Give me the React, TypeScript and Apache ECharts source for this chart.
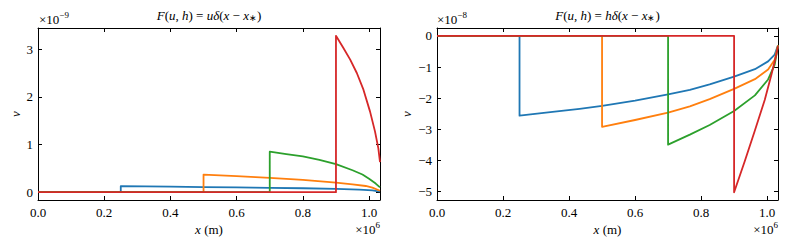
import React, { useEffect, useRef } from "react";
import * as echarts from "echarts";

// x in units of 1e6 m
const X_MAX = 1.033;
const xTicks = [0, 0.2, 0.4, 0.6, 0.8, 1.0];
const leftYTicks = [0, 1, 2, 3];
const rightYTicks = [0, -1, -2, -3, -4, -5];
const xStars = [0.25, 0.5, 0.7, 0.9];
const colors = ["#1f77b4", "#ff7f0e", "#2ca02c", "#d62728"];

// Left panel: F(u,h) = u δ(x - x*), v in units of 1e-9
const uBlueX = [0.25, 0.4, 0.5, 0.6, 0.7, 0.8, 0.9, 0.97, 1.01, 1.033];
const uBlueY = [0.125, 0.115, 0.108, 0.1, 0.092, 0.082, 0.068, 0.052, 0.036, 0.01];
const uOrangeX = [0.5, 0.6, 0.7, 0.8, 0.9, 0.95, 0.99, 1.01, 1.033];
const uOrangeY = [0.37, 0.335, 0.3, 0.26, 0.2, 0.165, 0.13, 0.095, 0.03];
const uGreenX = [0.7, 0.75, 0.8, 0.85, 0.9, 0.95, 0.98, 1.0, 1.02, 1.033];
const uGreenY = [0.85, 0.8, 0.75, 0.68, 0.59, 0.46, 0.37, 0.28, 0.18, 0.1];
const uRedX = [0.9, 0.922, 0.943, 0.963, 0.983, 1.003, 1.018, 1.028, 1.033];
const uRedY = [3.28, 3.03, 2.78, 2.5, 2.15, 1.69, 1.27, 0.92, 0.63];

// Right panel: F(u,h) = h δ(x - x*), v in units of 1e-8
const hBlueX = [0.25, 0.35, 0.432, 0.5, 0.6, 0.7, 0.766, 0.826, 0.9, 0.963, 1.003, 1.023, 1.033];
const hBlueY = [-2.56, -2.44, -2.34, -2.25, -2.08, -1.88, -1.73, -1.56, -1.31, -1.07, -0.82, -0.6, -0.3];
const hOrangeX = [0.5, 0.6, 0.7, 0.766, 0.826, 0.9, 0.963, 1.003, 1.023, 1.033];
const hOrangeY = [-2.92, -2.7, -2.46, -2.26, -2.03, -1.7, -1.39, -1.08, -0.77, -0.3];
const hGreenX = [0.7, 0.766, 0.826, 0.9, 0.963, 1.003, 1.023, 1.033];
const hGreenY = [-3.49, -3.17, -2.86, -2.41, -1.91, -1.4, -0.92, -0.32];
const hRedX = [0.9, 0.932, 0.962, 0.993, 1.013, 1.028, 1.033];
const hRedY = [-5.02, -4.03, -3.07, -2.05, -1.25, -0.6, -0.33];

const FONT = "Liberation Serif";

function curveSeries(xs: number[], ys: number[], xStar: number, color: string, idx: number) {
  return {
    type: "line",
    xAxisIndex: idx,
    yAxisIndex: idx,
    showSymbol: false,
    silent: true,
    smooth: false,
    lineStyle: { color, width: 1.8, join: "round" },
    data: [[0, 0], [xStar, 0], ...xs.map((x, i) => [x, ys[i]])],
  };
}

function mkX(gridIndex: number, position: "top" | "bottom", labels: boolean) {
  return {
    type: "value",
    gridIndex,
    position,
    min: 0,
    max: X_MAX,
    axisLine: { show: true, onZero: false, lineStyle: { color: "#000", width: 1 } },
    axisTick: { show: true, inside: true, length: 4, customValues: xTicks, lineStyle: { color: "#000" } },
    axisLabel: {
      show: labels,
      customValues: xTicks,
      margin: 6,
      fontFamily: FONT,
      fontSize: 13,
      color: "#000",
      formatter: (v: number) => v.toFixed(1),
    },
    splitLine: { show: false },
  };
}

function mkY(gridIndex: number, position: "left" | "right", labels: boolean, min: number, max: number, ticks: number[]) {
  return {
    type: "value",
    gridIndex,
    position,
    min,
    max,
    axisLine: { show: true, onZero: false, lineStyle: { color: "#000", width: 1 } },
    axisTick: { show: true, inside: true, length: 4, customValues: ticks, lineStyle: { color: "#000" } },
    axisLabel: {
      show: labels,
      customValues: ticks,
      margin: 5,
      fontFamily: FONT,
      fontSize: 13,
      color: "#000",
      formatter: (v: number) => (v < 0 ? "\u2212" + Math.abs(Math.round(v)) : String(Math.round(v))),
    },
    splitLine: { show: false },
  };
}

function titleText(cx: number, letter: string) {
  return {
    type: "text",
    x: cx,
    y: 15,
    silent: true,
    style: {
      text: `{i|F}({i|u}, {i|h}) = {i|${letter}δ}({i|x} − {i|x}{s|∗})`,
      fontFamily: FONT,
      fontSize: 13,
      fill: "#000",
      align: "center",
      verticalAlign: "middle",
      rich: {
        i: { fontStyle: "italic", fontFamily: FONT, fontSize: 13 },
        s: { fontSize: 9, fontFamily: FONT, padding: [6, 0, 0, 0] },
      },
    },
  };
}

function expText(x: number, y: number, exp: string, align: string) {
  return {
    type: "text",
    x,
    y,
    silent: true,
    style: {
      text: `×10{s|${exp}}`,
      fontFamily: FONT,
      fontSize: 13,
      fill: "#000",
      align,
      verticalAlign: "middle",
      rich: {
        s: { fontSize: 9, fontFamily: FONT, padding: [0, 0, 8, 0] },
      },
    },
  };
}

function xName(cx: number) {
  return {
    type: "text",
    x: cx,
    y: 229,
    silent: true,
    style: {
      text: "{i|x} (m)",
      fontFamily: FONT,
      fontSize: 13,
      fill: "#000",
      align: "center",
      verticalAlign: "middle",
      rich: { i: { fontStyle: "italic", fontFamily: FONT, fontSize: 13 } },
    },
  };
}

function yName(x: number) {
  return {
    type: "text",
    x,
    y: 114,
    rotation: Math.PI / 2,
    silent: true,
    style: {
      text: "v",
      fontFamily: FONT,
      fontSize: 13,
      fontStyle: "italic",
      fill: "#000",
      align: "center",
      verticalAlign: "middle",
    },
  };
}

export default function App() {
  const ref = useRef<HTMLDivElement>(null);
  useEffect(() => {
    if (!ref.current) return;
    const chart = echarts.init(ref.current, undefined, { renderer: "svg" });
    const series: any[] = [
      curveSeries(uBlueX, uBlueY, xStars[0], colors[0], 0),
      curveSeries(uOrangeX, uOrangeY, xStars[1], colors[1], 0),
      curveSeries(uGreenX, uGreenY, xStars[2], colors[2], 0),
      curveSeries(uRedX, uRedY, xStars[3], colors[3], 0),
      curveSeries(hBlueX, hBlueY, xStars[0], colors[0], 2),
      curveSeries(hOrangeX, hOrangeY, xStars[1], colors[1], 2),
      curveSeries(hGreenX, hGreenY, xStars[2], colors[2], 2),
      curveSeries(hRedX, hRedY, xStars[3], colors[3], 2),
    ];
    const option: any = {
      animation: false,
      backgroundColor: "#fff",
      grid: [
        { left: 38, top: 28, width: 342, height: 172, containLabel: false },
        { left: 437, top: 28, width: 341, height: 172, containLabel: false },
        { left: 38, top: 28, width: 342, height: 172, containLabel: false },
        { left: 437, top: 28, width: 341, height: 172, containLabel: false },
      ],
      xAxis: [mkX(0, "bottom", true), mkX(2, "top", false), mkX(1, "bottom", true), mkX(3, "top", false)],
      yAxis: [
        mkY(0, "left", true, -0.164, 3.444, leftYTicks),
        mkY(2, "right", false, -0.164, 3.444, leftYTicks),
        mkY(1, "left", true, -5.2665, 0.2515, rightYTicks),
        mkY(3, "right", false, -5.2665, 0.2515, rightYTicks),
      ],
      graphic: [
        titleText(209, "u"),
        titleText(607.5, "h"),
        expText(39, 19, "−9", "left"),
        expText(437, 19, "−8", "left"),
        xName(209),
        xName(607.5),
        expText(380, 229, "6", "right"),
        expText(778, 229, "6", "right"),
        yName(15),
        yName(406),
      ],
      series,
    };
    chart.setOption(option);
    return () => chart.dispose();
  }, []);
  return (
    <div
      ref={ref}
      style={{ position: "absolute", left: 0, top: 0, width: 789, height: 245 }}
    />
  );
}
